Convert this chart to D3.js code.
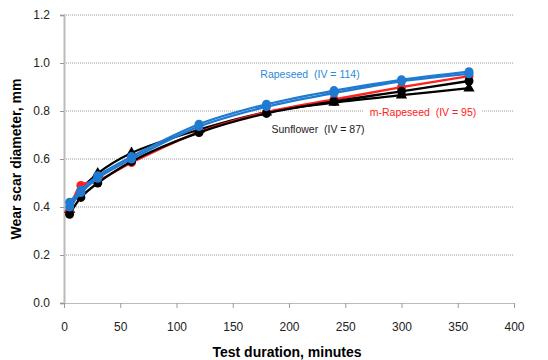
<!DOCTYPE html>
<html>
<head>
<meta charset="utf-8">
<title>Wear scar diameter</title>
<script src="https://cdn.jsdelivr.net/npm/d3@7"></script>
<style>
  body { margin: 0; background: #fff; }
  svg text { font-family: "Liberation Sans", Arial, sans-serif; }
</style>
</head>
<body>
<div id="chart"></div>
<script>
// test durations, minutes
var minutes = [5, 15, 30, 60, 120, 180, 240, 300, 360];

// wear scar diameter, mm
var rapeseedA = [0.42, 0.47, 0.53, 0.61, 0.745, 0.828, 0.885, 0.930, 0.964];
var rapeseedB = [0.40, 0.46, 0.52, 0.60, 0.735, 0.818, 0.875, 0.924, 0.955];
var mRapeseed = [0.38, 0.49, 0.51, 0.585, 0.712, 0.795, 0.848, 0.899, 0.945];
var sunflowerA = [0.37, 0.44, 0.50, 0.59, 0.710, 0.790, 0.840, 0.882, 0.925];
var sunflowerB = [0.39, 0.47, 0.54, 0.625, 0.722, 0.795, 0.835, 0.866, 0.895];

var xTicks = [0, 50, 100, 150, 200, 250, 300, 350, 400];
var yTicks = [0, 0.2, 0.4, 0.6, 0.8, 1.0, 1.2];

var series = [
  { name: "sunflowerB", values: sunflowerB, color: "#000000", marker: "triangle" },
  { name: "mRapeseed", values: mRapeseed, color: "#ff2020", marker: "circle" },
  { name: "sunflowerA", values: sunflowerA, color: "#000000", marker: "circle" },
  { name: "rapeseedB", values: rapeseedB, color: "#1f7ad0", marker: "circle" },
  { name: "rapeseedA", values: rapeseedA, color: "#1f7ad0", marker: "circle" }
];

var labels = [
  { text: "Rapeseed  (IV = 114)", x: 310, y: 0.95, color: "#2a8ad8" },
  { text: "m-Rapeseed  (IV = 95)", x: 423, y: 0.79, color: "#ff2020" },
  { text: "Sunflower  (IV = 87)", x: 318, y: 0.72, color: "#1a1a1a" }
];

var W = 548, H = 360;
var margin = { top: 15, right: 34, bottom: 57, left: 64 };

var svg = d3.select("#chart").append("svg")
  .attr("width", W)
  .attr("height", H);

var x = d3.scaleLinear().domain([0, 400]).range([margin.left, W - margin.right]);
var y = d3.scaleLinear().domain([0, 1.2]).range([H - margin.bottom, margin.top]);

// gridlines
svg.append("g")
  .selectAll("line")
  .data(yTicks.slice(1))
  .enter().append("line")
  .attr("x1", x(0))
  .attr("x2", x(400))
  .attr("y1", function (d) { return y(d); })
  .attr("y2", function (d) { return y(d); })
  .attr("stroke", "#999")
  .attr("stroke-width", 1)
  .attr("stroke-dasharray", "1,1");

// y axis
var yAxis = svg.append("g")
  .attr("transform", "translate(" + x(0) + ",0)")
  .call(d3.axisLeft(y).tickValues(yTicks).tickFormat(d3.format(".1f")).tickSize(4).tickPadding(10));
yAxis.select(".domain").attr("stroke", "#bbb").attr("stroke-width", 2);
yAxis.selectAll(".tick line").attr("stroke", "#999");
yAxis.selectAll("text").attr("font-size", 12).attr("fill", "#222");

// x axis
var xAxis = svg.append("g")
  .attr("transform", "translate(0," + y(0) + ")")
  .call(d3.axisBottom(x).tickValues(xTicks).tickSize(5).tickPadding(14));
xAxis.select(".domain").attr("stroke", "#bbb").attr("stroke-width", 1);
xAxis.selectAll(".tick line").attr("stroke", "#999");
xAxis.selectAll("text").attr("font-size", 12).attr("fill", "#222");

// axis titles
svg.append("text")
  .attr("x", (x(0) + x(400)) / 2 - 2)
  .attr("y", 357)
  .attr("text-anchor", "middle")
  .attr("font-size", 14)
  .attr("font-weight", "bold")
  .text("Test duration, minutes");

svg.append("text")
  .attr("transform", "translate(21," + y(0.6) + ") rotate(-90)")
  .attr("text-anchor", "middle")
  .attr("font-size", 14)
  .attr("font-weight", "bold")
  .text("Wear scar diameter, mm");

var line = d3.line()
  .x(function (d, i) { return x(minutes[i]); })
  .y(function (d) { return y(d); })
  .curve(d3.curveCatmullRom.alpha(0.5));

var tri = d3.symbol().type(d3.symbolTriangle).size(55);

series.forEach(function (s) {
  var g = svg.append("g");
  g.append("path")
    .datum(s.values)
    .attr("fill", "none")
    .attr("stroke", s.color)
    .attr("stroke-width", 2.3)
    .attr("d", line);
  if (s.marker === "circle") {
    g.selectAll("circle")
      .data(s.values)
      .enter().append("circle")
      .attr("cx", function (d, i) { return x(minutes[i]); })
      .attr("cy", function (d) { return y(d); })
      .attr("r", 4.5)
      .attr("fill", s.color);
  } else {
    g.selectAll("path.m")
      .data(s.values)
      .enter().append("path")
      .attr("class", "m")
      .attr("d", tri)
      .attr("transform", function (d, i) { return "translate(" + x(minutes[i]) + "," + y(d) + ")"; })
      .attr("fill", s.color);
  }
});

// series labels
labels.forEach(function (l) {
  var t = svg.append("text")
    .attr("x", l.x)
    .attr("y", y(l.y))
    .attr("text-anchor", "middle")
    .attr("dominant-baseline", "middle")
    .attr("font-size", 10.5)
    .attr("fill", l.color)
    .style("white-space", "pre")
    .text(l.text);
  var b = t.node().getBBox();
  svg.insert("rect", function () { return t.node(); })
    .attr("x", b.x - 6)
    .attr("y", b.y)
    .attr("width", b.width + 12)
    .attr("height", b.height)
    .attr("fill", "#fff");
});
</script>
</body>
</html>
